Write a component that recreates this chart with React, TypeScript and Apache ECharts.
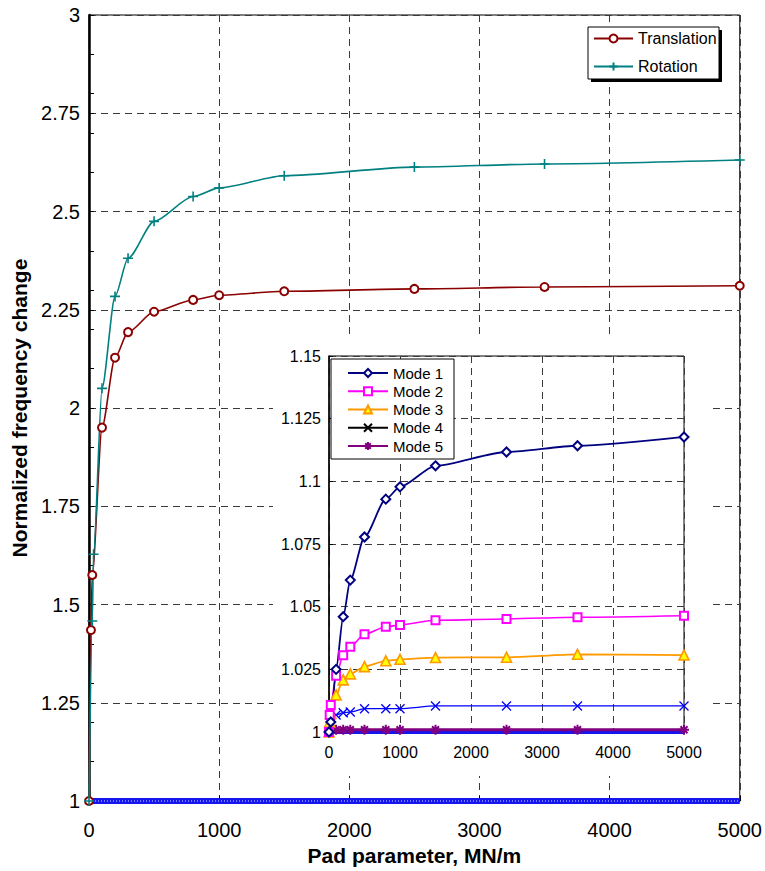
import React, { useEffect, useRef } from "react";
import * as echarts from "echarts";

// ---------- Main chart data ----------
const transX = [0, 15, 25, 100, 200, 300, 500, 800, 1000, 1500, 2500, 3500, 5000];
const transY = [1.0, 1.435, 1.575, 1.95, 2.128, 2.193, 2.245, 2.275, 2.287, 2.297, 2.303, 2.308, 2.311];
const rotX = [0, 25, 35, 100, 200, 300, 500, 800, 1000, 1500, 2500, 3500, 5000];
const rotY = [1.0, 1.458, 1.628, 2.05, 2.284, 2.381, 2.475, 2.538, 2.56, 2.591, 2.613, 2.621, 2.631];
const baseX = [0, 5000];
const baseY = [1.0, 1.0];

// ---------- Inset data ----------
const m1X = [0, 25, 100, 200, 300, 500, 800, 1000, 1500, 2500, 3500, 5000];
const m1Y = [1.0, 1.004, 1.025, 1.046, 1.0606, 1.0778, 1.0929, 1.0978, 1.1062, 1.1117, 1.1142, 1.1177];
const m2X = [0, 10, 25, 100, 200, 300, 500, 800, 1000, 1500, 2500, 3500, 5000];
const m2Y = [1.0, 1.0068, 1.0108, 1.0224, 1.0306, 1.034, 1.039, 1.042, 1.0427, 1.0446, 1.0451, 1.0458, 1.0464];
const m3X = [0, 10, 25, 100, 200, 300, 500, 800, 1000, 1500, 2500, 3500, 5000];
const m3Y = [1.0, 1.004, 1.0075, 1.0148, 1.0208, 1.0232, 1.0261, 1.0284, 1.029, 1.0297, 1.0298, 1.031, 1.0307];
const m4X = [0, 25, 100, 200, 300, 500, 800, 1000, 1500, 2500, 3500, 5000];
const m4Y = [1.0, 1.0036, 1.0068, 1.0077, 1.008, 1.0093, 1.0093, 1.0093, 1.0104, 1.0104, 1.0104, 1.0104];
const m5X = [0, 25, 50, 100, 200, 300, 500, 800, 1000, 1500, 2500, 3500, 5000];
const m5Y = [1.0008, 1.0009, 1.0009, 1.0009, 1.0009, 1.0009, 1.0009, 1.0009, 1.0009, 1.0009, 1.0009, 1.0009, 1.0009];
const insetBaseX = [0, 5000];
const insetBaseY = [1.0, 1.0];

const mainXTicks = { min: 0, max: 5000, interval: 1000 };
const mainYTicks = { min: 1, max: 3, interval: 0.25, minor: 0.1 };
const insetYTicks = { min: 1, max: 1.15, interval: 0.025 };

const zip = (xs: number[], ys: number[]) => xs.map((x, i) => [x, ys[i]]);

const FONT = "'Liberation Sans', Arial, Helvetica, sans-serif";
const PLUS = "path://M5,0L5,10M0,5L10,5";
const CROSS = "path://M0,0L10,10M10,0L0,10";
const STAR = "path://M5,0L5,10M0,5L10,5M1.5,1.5L8.5,8.5M8.5,1.5L1.5,8.5";

const dashed = { color: "#3a3a3a", width: 1, type: [7, 5] as number[] };
const plain = (v: number) => String(parseFloat(v.toFixed(3)));
const SMOOTH = 0.25;

export default function App() {
  const ref = useRef<HTMLDivElement>(null);

  useEffect(() => {
    if (!ref.current) return;
    const chart = echarts.init(ref.current, null, { renderer: "svg" });

    const option: any = {
      animation: false,
      backgroundColor: "#fff",
      textStyle: { fontFamily: FONT, color: "#000" },
      grid: [
        { left: 89, top: 15, right: 24, bottom: 69, show: true, borderColor: "#000", borderWidth: 1, z: 0 },
        { left: 329, top: 356, right: 81, bottom: 139, show: true, borderColor: "#000", borderWidth: 1, z: 3 },
      ],
      xAxis: [
        {
          type: "value", gridIndex: 0, ...mainXTicks, z: 0,
          axisLine: { show: true, lineStyle: { color: "#000", width: 1.5 } },
          axisTick: { show: true, inside: true, length: 5, lineStyle: { color: "#000" } },
          axisLabel: { fontSize: 20, color: "#000", margin: 19, fontFamily: FONT, formatter: plain },
          splitLine: { show: true, lineStyle: dashed },
          name: "Pad parameter, MN/m", nameLocation: "middle", nameGap: 44,
          nameTextStyle: { fontSize: 21, fontWeight: "bold", color: "#000", fontFamily: FONT },
        },
        {
          type: "value", gridIndex: 1, ...mainXTicks, z: 3,
          axisLine: { show: true, onZero: false, lineStyle: { color: "#000", width: 1 } },
          axisTick: { show: true, inside: true, length: 4, lineStyle: { color: "#000" } },
          axisLabel: { fontSize: 16, color: "#000", margin: 12, fontFamily: FONT, formatter: plain },
          splitLine: { show: true, lineStyle: dashed },
        },
      ],
      yAxis: [
        {
          type: "value", gridIndex: 0, min: mainYTicks.min, max: mainYTicks.max, interval: mainYTicks.interval, z: 0,
          position: "left",
          axisLine: { show: true, lineStyle: { color: "#000", width: 2.5 } },
          axisTick: { show: true, inside: true, length: 5, lineStyle: { color: "#000" } },
          axisLabel: { fontSize: 20, color: "#000", margin: 9, fontFamily: FONT, formatter: plain },
          splitLine: { show: true, lineStyle: dashed },
          name: "Normalized frequency change", nameLocation: "middle", nameGap: 56,
          nameTextStyle: { fontSize: 21, fontWeight: "bold", color: "#000", fontFamily: FONT },
        },
        {
          type: "value", gridIndex: 0, min: mainYTicks.min, max: mainYTicks.max, interval: mainYTicks.minor, z: 0,
          position: "left",
          axisLine: { show: false },
          axisTick: { show: true, inside: true, length: 5, lineStyle: { color: "#000" } },
          axisLabel: { show: false },
          splitLine: { show: false },
        },
        {
          type: "value", gridIndex: 1, ...insetYTicks, z: 3,
          axisLine: { show: true, onZero: false, lineStyle: { color: "#000", width: 1.5 } },
          axisTick: { show: true, inside: true, length: 4, lineStyle: { color: "#000" } },
          axisLabel: { fontSize: 16, color: "#000", margin: 8, fontFamily: FONT, formatter: plain },
          splitLine: { show: true, lineStyle: dashed },
        },
      ],
      legend: [
        {
          data: ["Translation", "Rotation"],
          orient: "vertical", left: 593, top: 30.5, itemWidth: 39, itemHeight: 10, itemGap: 12,
          itemTextGap: 5, z: 10, padding: 0,
          textStyle: { fontSize: 16, color: "#000", fontFamily: FONT, lineHeight: 14 },
        },
        {
          data: [
            "Mode 1", "Mode 2", "Mode 3",
            { name: "Mode 4", itemStyle: { color: "#000", borderColor: "#000" }, lineStyle: { color: "#000" } },
            "Mode 5",
          ],
          orient: "vertical", left: 347, top: 365.5, itemWidth: 40, itemHeight: 10, itemGap: 3.25,
          itemTextGap: 5, z: 10, padding: 0,
          textStyle: { fontSize: 15, color: "#000", fontFamily: FONT, lineHeight: 14 },
        },
      ],
      graphic: [
        { type: "rect", z: 1, silent: true, shape: { x: 273, y: 336, width: 440, height: 440 }, style: { fill: "#fff" } },
        { type: "rect", z: 7, silent: true, shape: { x: 591, y: 30, width: 131, height: 52 }, style: { fill: "#000" } },
        { type: "rect", z: 8, silent: true, shape: { x: 588, y: 27, width: 131, height: 52 }, style: { fill: "#fff", stroke: "#000", lineWidth: 1 } },
        { type: "rect", z: 8, silent: true, shape: { x: 331, y: 359, width: 123, height: 100 }, style: { fill: "#fff", stroke: "#000", lineWidth: 1 } },
      ],
      series: [
        {
          name: "Baseline", type: "line", xAxisIndex: 0, yAxisIndex: 0, data: zip(baseX, baseY),
          symbol: "none", lineStyle: { color: "#1515f0", width: 6 }, z: 2,
        },
        {
          name: "Baseline ", type: "line", xAxisIndex: 0, yAxisIndex: 0, data: zip(baseX, baseY),
          symbol: "none", lineStyle: { color: "#7a7aff", width: 2, type: [1, 2] }, z: 2,
        },
        {
          name: "Translation", type: "line", xAxisIndex: 0, yAxisIndex: 0, data: zip(transX, transY),
          smooth: SMOOTH, smoothMonotone: "x",
          symbol: "emptyCircle", symbolSize: 8,
          itemStyle: { color: "#8b0000", borderColor: "#8b0000", borderWidth: 1.5 },
          lineStyle: { color: "#8b0000", width: 1.6 }, z: 3,
        },
        {
          name: "Rotation", type: "line", xAxisIndex: 0, yAxisIndex: 0, data: zip(rotX, rotY),
          smooth: SMOOTH, smoothMonotone: "x",
          symbol: PLUS, symbolSize: 10,
          itemStyle: { color: "#008080", borderColor: "#008080", borderWidth: 1.6 },
          lineStyle: { color: "#008080", width: 1.6 }, z: 3,
        },
        {
          name: "Inset base", type: "line", xAxisIndex: 1, yAxisIndex: 2, data: zip(insetBaseX, insetBaseY),
          symbol: "none", lineStyle: { color: "#1515f0", width: 4 }, z: 5,
        },
        {
          name: "Mode 5", type: "line", xAxisIndex: 1, yAxisIndex: 2, data: zip(m5X, m5Y),
          smooth: SMOOTH, smoothMonotone: "x",
          symbol: STAR, symbolSize: 10,
          itemStyle: { color: "#800080", borderColor: "#800080", borderWidth: 2 },
          lineStyle: { color: "#800080", width: 3 }, z: 6,
        },
        {
          name: "Mode 4", type: "line", xAxisIndex: 1, yAxisIndex: 2, data: zip(m4X, m4Y),
          smooth: SMOOTH, smoothMonotone: "x",
          symbol: CROSS, symbolSize: 9,
          itemStyle: { color: "#0000ff", borderColor: "#0000ff", borderWidth: 1.3 },
          lineStyle: { color: "#0000ff", width: 1.3 }, z: 6,
        },
        {
          name: "Mode 3", type: "line", xAxisIndex: 1, yAxisIndex: 2, data: zip(m3X, m3Y),
          smooth: SMOOTH, smoothMonotone: "x",
          symbol: "triangle", symbolSize: 10,
          itemStyle: { color: "#ffff00", borderColor: "#ff9900", borderWidth: 1.6 },
          lineStyle: { color: "#ff9900", width: 1.8 }, z: 6,
        },
        {
          name: "Mode 2", type: "line", xAxisIndex: 1, yAxisIndex: 2, data: zip(m2X, m2Y),
          smooth: SMOOTH, smoothMonotone: "x",
          symbol: "emptyRect", symbolSize: 8,
          itemStyle: { color: "#ff00ff", borderColor: "#ff00ff", borderWidth: 1.5 },
          lineStyle: { color: "#ff00ff", width: 1.6 }, z: 6,
        },
        {
          name: "Mode 1", type: "line", xAxisIndex: 1, yAxisIndex: 2, data: zip(m1X, m1Y),
          smooth: SMOOTH, smoothMonotone: "x",
          symbol: "emptyDiamond", symbolSize: 9,
          itemStyle: { color: "#000080", borderColor: "#000080", borderWidth: 1.5 },
          lineStyle: { color: "#000080", width: 1.8 }, z: 6,
        },
      ],
    };

    chart.setOption(option);
    return () => chart.dispose();
  }, []);

  return (
    <div
      ref={ref}
      style={{ position: "fixed", left: 0, top: 0, width: 765, height: 871, background: "#fff" }}
    />
  );
}
